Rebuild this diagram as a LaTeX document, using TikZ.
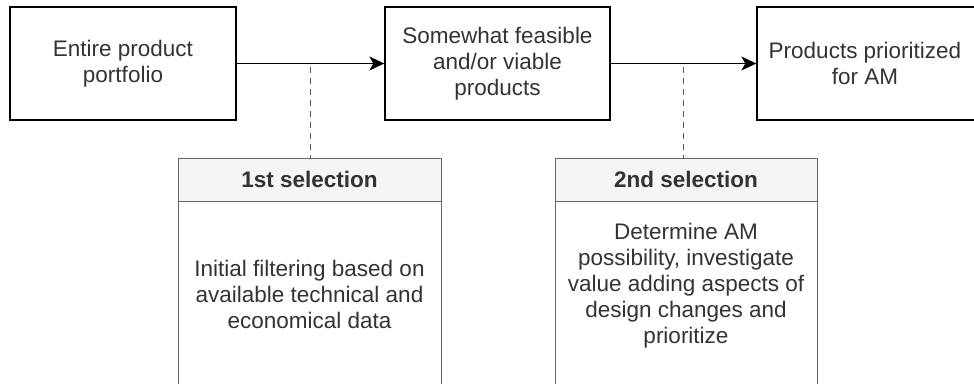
\documentclass[tikz,border=0pt]{standalone}
\usepackage{fontspec}
\setmainfont{Liberation Sans}
\usetikzlibrary{calc,arrows.meta}
\definecolor{txt}{HTML}{333333}
\definecolor{edgegray}{HTML}{666666}
\definecolor{headfill}{HTML}{F5F5F5}
\begin{document}
\begin{tikzpicture}[x=1pt,y=-1pt,
  lbl/.style={font=\fontsize{22.5}{26}\selectfont, text=txt, align=center},
  topbox/.style={lbl, draw=black, line width=1.3pt, minimum width=226pt, minimum height=113pt, inner sep=0pt},
  headbox/.style={draw=edgegray, fill=headfill, line width=1pt, minimum width=263pt, minimum height=43pt, inner sep=0pt, font=\bfseries\fontsize{22.5}{26}\selectfont, text=txt},
  bodybox/.style={draw=edgegray, line width=1pt, minimum width=263pt, minimum height=200pt, inner sep=0pt},
  bodytext/.style={lbl, inner sep=0pt},
  flow/.style={-{Stealth[length=15pt,width=14pt,inset=4pt]}, line width=1.3pt},
  link/.style={dash pattern=on 6pt off 5pt, line width=1.5pt, draw=black!65}]
\clip (0,0) rectangle (974,383);
\fill[white] (0,0) rectangle (974,383);
% top row
\node[topbox] (b1) at (123,63.5) {Entire product\\portfolio};
\node[topbox, minimum width=225pt] (b2) at (497.5,63.5) {Somewhat feasible\\and/or viable\\products};
\node[topbox] (b3) at (870,63.5) {};
\node[lbl] (t3) at (865,63.5) {Products prioritized\\for AM};
\draw[flow] (b1) -- (b2);
\draw[flow] (b2) -- (b3);
\coordinate (m1) at ($(b1.east)!0.5!(b2.west)$);
\coordinate (m2) at ($(b2.east)!0.5!(b3.west)$);
% selection boxes
\node[bodybox] (s1b) at (309.5,301) {};
\node[headbox] (s1h) at (309.5,179.5) {1st selection};
\node[bodytext] (s1t) at (309.5,294) {Initial filtering based on\\available technical and\\economical data};
\node[bodybox, minimum width=262pt] (s2b) at (686,301) {};
\node[headbox, minimum width=262pt] (s2h) at (686,179.5) {2nd selection};
\node[bodytext] (s2t) at (686,286) {Determine AM\\possibility, investigate\\value adding aspects of\\design changes and\\prioritize};
\draw[link] ($(m1)+(0,3)$) -- (m1 |- s1h.north);
\draw[link] ($(m2)+(0,3)$) -- (m2 |- s2h.north);
\end{tikzpicture}
\end{document}
